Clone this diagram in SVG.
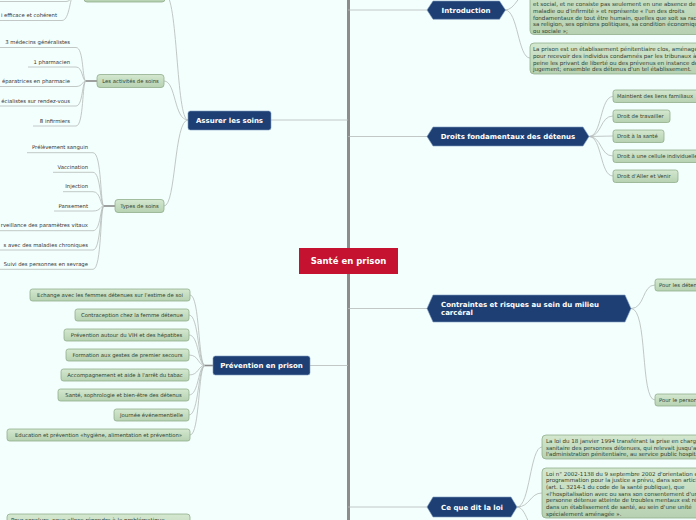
<svg xmlns="http://www.w3.org/2000/svg" width="696" height="520" viewBox="0 0 696 520">
<defs>
<linearGradient id="g" x1="0" y1="0" x2="0" y2="1">
<stop offset="0" stop-color="#d4e8d0"/>
<stop offset="1" stop-color="#b6d1b1"/>
</linearGradient>
<style>
text{font-family:"DejaVu Sans","Liberation Sans",sans-serif}
.leaf{font-size:5.3px;fill:#333}
.bt{font-size:5.3px;fill:#2f3d2f}
.ct{text-anchor:middle}
.pt{font-size:5.55px;fill:#2f3d2f}
.box{fill:url(#g);stroke:#90ad8c;stroke-width:0.8}
.main{fill:#1d3f73;stroke:#7f9cc2;stroke-width:0.6}
.mt{font-size:7px;font-weight:bold;fill:#fff}
.c{fill:none;stroke:#b4bab8;stroke-width:0.8}
.hub{fill:none;stroke:#8a8a8a;stroke-width:1.6}
.trunk{fill:none;stroke:#8c8c8c;stroke-width:3}
</style>
</defs>
<rect width="696" height="520" fill="#f3fffd"/>

<g id="connectors">
<line class="trunk" x1="348.5" y1="0" x2="348.5" y2="520"/>
<line class="c" x1="271" y1="120" x2="348" y2="120"/>
<line class="c" x1="310" y1="365.5" x2="348" y2="365.5"/>
<line class="c" x1="348" y1="10" x2="427" y2="10"/>
<line class="c" x1="348" y1="136.5" x2="427" y2="136.5"/>
<line class="c" x1="348" y1="308.5" x2="427" y2="308.5"/>
<line class="c" x1="348" y1="507" x2="427" y2="507"/>
<path class="c" d="M188 120 C176 120 178 -6 165 -6"/>
<path class="c" d="M188 120 C174 120 176 81 164 81"/>
<path class="c" d="M188 120 C174 120 176 206 164 206"/>
<line class="hub" x1="74" y1="-6" x2="84" y2="-6"/>
<path class="c" d="M0 1.5 H66 C72 1.5 72 -6 74 -6"/>
<path class="c" d="M0 20.5 H62 C70 20.5 70 -6 74 -6"/>
<line class="hub" x1="86" y1="81" x2="97" y2="81"/>
<path class="c" d="M0 47.5 H76 C84 47.5 82 81 86 81"/>
<path class="c" d="M28 67 H76 C83 67 82 81 86 81"/>
<path class="c" d="M0 86.5 H76 C83 86.5 82 81 86 81"/>
<path class="c" d="M0 106 H76 C83 106 82 81 86 81"/>
<path class="c" d="M33 126 H76 C84 126 82 81 86 81"/>
<line class="hub" x1="104" y1="206" x2="115" y2="206"/>
<path class="c" d="M27 152.7 H93 C102 152.7 100 206 104 206"/>
<path class="c" d="M53 172.3 H93 C101 172.3 100 206 104 206"/>
<path class="c" d="M63 191.7 H93 C101 191.7 100 206 104 206"/>
<path class="c" d="M54 211 H93 C101 211 100 206 104 206"/>
<path class="c" d="M0 230.7 H93 C101 230.7 100 206 104 206"/>
<path class="c" d="M0 250 H93 C101 250 100 206 104 206"/>
<path class="c" d="M0 269.3 H93 C102 269.3 100 206 104 206"/>
<line class="hub" x1="205" y1="365.5" x2="213" y2="365.5"/>
<path class="c" d="M190 295 C200 295 198 365.5 205 365.5"/>
<path class="c" d="M189 315 C199 315 198 365.5 205 365.5"/>
<path class="c" d="M189 335 C199 335 198 365.5 205 365.5"/>
<path class="c" d="M189 355 C199 355 198 365.5 205 365.5"/>
<path class="c" d="M189 375 C199 375 198 365.5 205 365.5"/>
<path class="c" d="M189 395 C199 395 198 365.5 205 365.5"/>
<path class="c" d="M189 415 C199 415 198 365.5 205 365.5"/>
<path class="c" d="M190 435 C200 435 198 365.5 205 365.5"/>
<path class="c" d="M505 10 C516 10 518 -8 530 -8"/>
<path class="c" d="M505 10 C518 10 518 58 530 58"/>
<path class="c" d="M589 136.5 C602 136.5 600 96.5 613 96.5"/>
<path class="c" d="M589 136.5 C602 136.5 600 116 613 116"/>
<path class="c" d="M589 136.5 L613 136"/>
<path class="c" d="M589 136.5 C602 136.5 600 156 613 156"/>
<path class="c" d="M589 136.5 C602 136.5 600 176 613 176"/>
<path class="c" d="M631 308.5 C645 308.5 642 285 655 285"/>
<path class="c" d="M631 308.5 C648 308.5 640 400 655 400"/>
<path class="c" d="M517 507 C530 507 530 447 542 447"/>
<path class="c" d="M517 507 C530 507 530 493 542 493"/>
<path class="c" d="M517 507 C528 507 530 540 542 540"/>
</g>

<g id="root">
<rect x="299" y="248" width="99" height="26" fill="#c41230"/>
<text x="348.5" y="264" text-anchor="middle" font-size="8.5" font-weight="bold" fill="#fff">Santé en prison</text>
</g>

<g id="assurer">
<rect class="main" x="188" y="111" width="83" height="19" rx="2.5"/>
<text class="mt ct" x="229.5" y="122.5">Assurer les soins</text>
</g>
<g id="top-node"><rect class="box" x="84" y="-14" width="81" height="16" rx="3"/></g>
<g id="top-leaf"><text class="leaf" x="57" y="17" text-anchor="end">i efficace et cohérent</text></g>

<g id="activites">
<rect class="box" x="97" y="74.5" width="67" height="13" rx="3"/>
<text class="bt ct" x="130.5" y="83">Les activités de soins</text>
</g>
<g id="act-leaves">
<text class="leaf" x="70" y="44" text-anchor="end">3 médecins généralistes</text>
<text class="leaf" x="70" y="63.5" text-anchor="end">1 pharmacien</text>
<text class="leaf" x="70" y="83" text-anchor="end">éparatrices en pharmacie</text>
<text class="leaf" x="70" y="102.5" text-anchor="end">écialistes sur rendez-vous</text>
<text class="leaf" x="70" y="122.5" text-anchor="end">8 infirmiers</text>
</g>

<g id="types">
<rect class="box" x="115" y="199.5" width="49" height="13" rx="3"/>
<text class="bt ct" x="139.5" y="208">Types de soins</text>
</g>
<g id="types-leaves">
<text class="leaf" x="88" y="149" text-anchor="end">Prélèvement sanguin</text>
<text class="leaf" x="88" y="168.5" text-anchor="end">Vaccination</text>
<text class="leaf" x="88" y="188" text-anchor="end">Injection</text>
<text class="leaf" x="88" y="207.5" text-anchor="end">Pansement</text>
<text class="leaf" x="88" y="227" text-anchor="end">rveillance des paramètres vitaux</text>
<text class="leaf" x="88" y="246.5" text-anchor="end">s avec des maladies chroniques</text>
<text class="leaf" x="88" y="266" text-anchor="end">Suivi des personnes en sevrage</text>
</g>

<g id="prevention">
<rect class="main" x="213" y="356" width="97" height="19" rx="2.5"/>
<text class="mt ct" x="261.5" y="368">Prévention en prison</text>
</g>
<g id="prev-children">
<rect class="box" x="30" y="289" width="160" height="12" rx="2.5"/>
<text class="bt ct" x="110" y="297">Echange avec les femmes détenues sur l'estime de soi</text>
<rect class="box" x="75" y="309" width="114" height="12" rx="2.5"/>
<text class="bt ct" x="132" y="317">Contraception chez la femme détenue</text>
<rect class="box" x="64" y="329" width="125" height="12" rx="2.5"/>
<text class="bt ct" x="126.5" y="337">Prévention autour du VIH et des hépatites</text>
<rect class="box" x="66" y="349" width="123" height="12" rx="2.5"/>
<text class="bt ct" x="127.5" y="357">Formation aux gestes de premier secours</text>
<rect class="box" x="61" y="369" width="128" height="12" rx="2.5"/>
<text class="bt ct" x="125" y="377">Accompagnement et aide à l'arrêt du tabac</text>
<rect class="box" x="58" y="389" width="131" height="12" rx="2.5"/>
<text class="bt ct" x="123.5" y="397">Santé, sophrologie et bien-être des détenus</text>
<rect class="box" x="114" y="409" width="75" height="12" rx="2.5"/>
<text class="bt ct" x="151.5" y="417">Journée événementielle</text>
<rect class="box" x="7" y="429" width="183" height="12" rx="2.5"/>
<text class="bt ct" x="98.5" y="437">Education et prévention «hygiène, alimentation et prévention»</text>
</g>
<g id="conclusion">
<rect class="box" x="7" y="514" width="183" height="30" rx="3"/>
<text class="pt" x="11" y="522">Pour conclure, nous allons répondre à la problématique</text>
</g>

<g id="introduction">
<path class="main" d="M427 10 L433 1 H499.5 L505.5 10 L499.5 19.3 H433 Z"/>
<text class="mt ct" x="466" y="12.5">Introduction</text>
</g>
<g id="intro-1">
<rect class="box" x="530" y="-30" width="200" height="64.5" rx="4"/>
<text class="pt">
<tspan x="533" y="6">et social, et ne consiste pas seulement en une absence de</tspan>
<tspan x="533" y="13">maladie ou d'infirmité » et représente « l'un des droits</tspan>
<tspan x="533" y="19.5">fondamentaux de tout être humain, quelles que soit sa race,</tspan>
<tspan x="533" y="26.2">sa religion, ses opinions politiques, sa condition économique</tspan>
<tspan x="533" y="32.5">ou sociale »;</tspan>
</text>
</g>
<g id="intro-2">
<rect class="box" x="530" y="43" width="200" height="31" rx="4"/>
<text class="pt">
<tspan x="533" y="51.3">La prison est un établissement pénitentiaire clos, aménagé</tspan>
<tspan x="533" y="58">pour recevoir des individus condamnés par les tribunaux à</tspan>
<tspan x="533" y="64.6">peine les privant de liberté ou des prévenus en instance de</tspan>
<tspan x="533" y="71.2">jugement; ensemble des détenus d'un tel établissement.</tspan>
</text>
</g>

<g id="droits">
<path class="main" d="M427 136.5 L433 127 H583 L589 136.5 L583 146 H433 Z"/>
<text class="mt ct" x="508" y="139">Droits fondamentaux des détenus</text>
</g>
<g id="droits-children">
<rect class="box" x="613" y="90" width="100" height="12.5" rx="2.5"/>
<text class="bt" x="617" y="98.3">Maintient des liens familiaux</text>
<rect class="box" x="613" y="110" width="57" height="12.5" rx="2.5"/>
<text class="bt" x="617" y="118.3">Droit de travailler</text>
<rect class="box" x="613" y="130" width="51" height="12.5" rx="2.5"/>
<text class="bt" x="617" y="138.3">Droit à la santé</text>
<rect class="box" x="613" y="150" width="100" height="12.5" rx="2.5"/>
<text class="bt" x="617" y="158.3">Droit à une cellule individuelle</text>
<rect class="box" x="613" y="170" width="65" height="12.5" rx="2.5"/>
<text class="bt" x="617" y="178.3">Droit d'Aller et Venir</text>
</g>

<g id="contraintes">
<path class="main" d="M427 308.5 L433 295 H625 L631 308.5 L625 322 H433 Z"/>
<text class="mt"><tspan x="441" y="306.5">Contraintes et risques au sein du milieu</tspan><tspan x="441" y="314.5">carcéral</tspan></text>
</g>
<g id="contraintes-children">
<rect class="box" x="655" y="279" width="60" height="12" rx="2.5"/>
<text class="bt" x="659" y="287">Pour les détenus</text>
<rect class="box" x="655" y="394" width="60" height="12" rx="2.5"/>
<text class="bt" x="659" y="402">Pour le personnel</text>
</g>

<g id="loi">
<path class="main" d="M427 507 L433 497 H511 L517 507 L511 517 H433 Z"/>
<text class="mt ct" x="472" y="509.5">Ce que dit la loi</text>
</g>
<g id="loi-children">
<rect class="box" x="542" y="435" width="190" height="24" rx="4"/>
<text class="pt">
<tspan x="546" y="443">La loi du 18 janvier 1994 transférant la prise en charge</tspan>
<tspan x="546" y="449.5">sanitaire des personnes détenues, qui relevait jusqu'alors de</tspan>
<tspan x="546" y="456">l'administration pénitentiaire, au service public hospitalier</tspan>
</text>
<rect class="box" x="542" y="468" width="190" height="50" rx="4"/>
<text class="pt">
<tspan x="546" y="475.5">Loi n° 2002-1138 du 9 septembre 2002 d'orientation et de</tspan>
<tspan x="546" y="482">programmation pour la justice a prévu, dans son article 48</tspan>
<tspan x="546" y="488.8">(art. L. 3214-1 du code de la santé publique), que</tspan>
<tspan x="546" y="495.5">«l'hospitalisation avec ou sans son consentement d'une</tspan>
<tspan x="546" y="502">personne détenue atteinte de troubles mentaux est réalisée</tspan>
<tspan x="546" y="508.8">dans un établissement de santé, au sein d'une unité</tspan>
<tspan x="546" y="515.8">spécialement aménagée ».</tspan>
</text>
</g>
</svg>
